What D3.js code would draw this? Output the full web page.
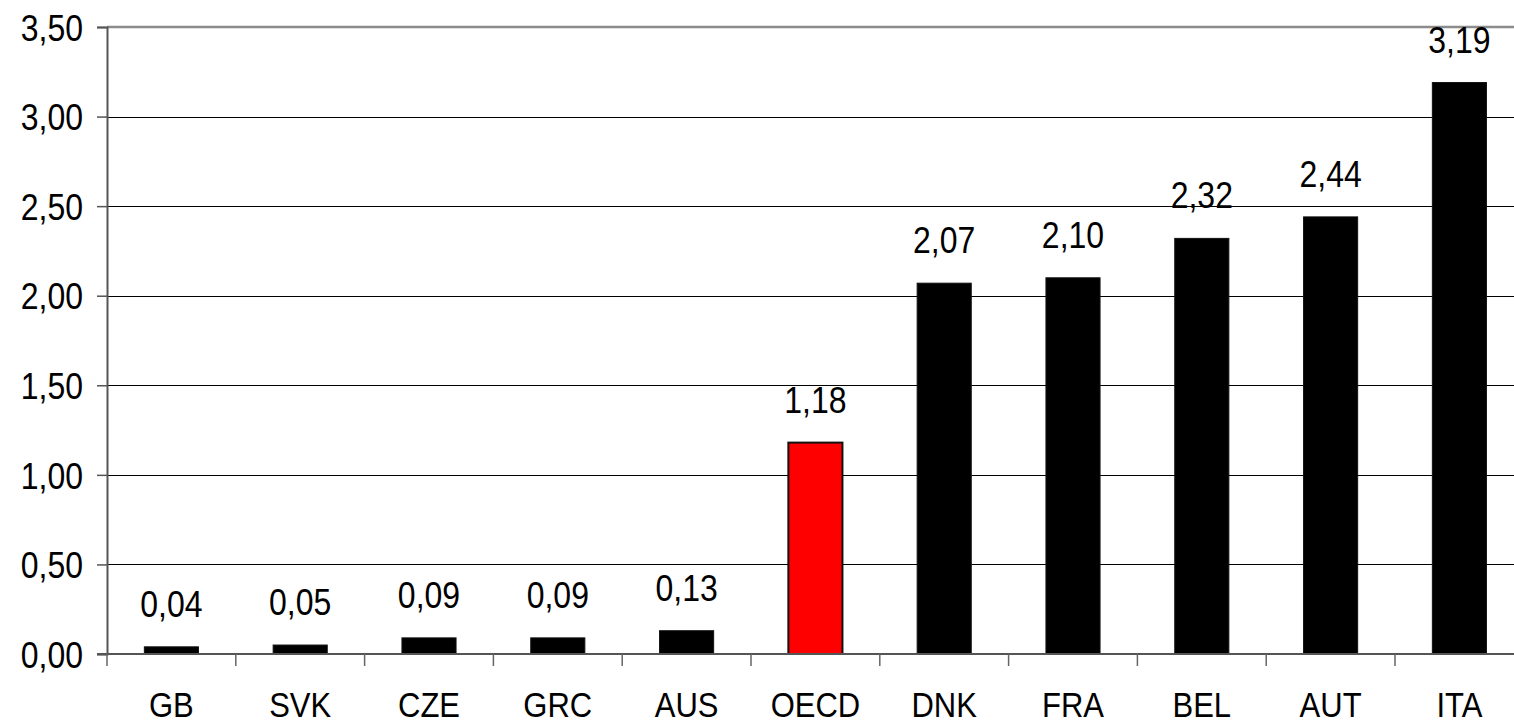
<!DOCTYPE html>
<html>
<head>
<meta charset="utf-8">
<script src="https://cdn.jsdelivr.net/npm/d3@7"></script>
<style>
  html, body { margin: 0; padding: 0; background: #fff; }
  svg { display: block; font-family: "Liberation Sans", Arial, sans-serif; }
</style>
</head>
<body>
<svg id="chart" width="1514" height="725"></svg>
<script>
// Country codes along the category axis
const categories = ["GB", "SVK", "CZE", "GRC", "AUS", "OECD", "DNK", "FRA", "BEL", "AUT", "ITA"];
// Values shown on each bar
const values = [0.04, 0.05, 0.09, 0.09, 0.13, 1.18, 2.07, 2.10, 2.32, 2.44, 3.19];
// Value-axis ticks
const yTicks = [0, 0.5, 1.0, 1.5, 2.0, 2.5, 3.0, 3.5];
// The aggregate bar drawn in a highlight colour
const highlight = "OECD";

(function draw() {
  const svg = d3.select("#chart");
  const plotLeft = 107, plotTop = 27, plotBottom = 654;
  const step = 128.8;
  const plotRight = plotLeft + step * categories.length;
  const stretch = 1.15; // text is drawn slightly tall and narrow

  const fmt = d3.formatLocale({ decimal: ",", thousands: ".", grouping: [3], currency: ["", ""] }).format(".2f");

  const x = d3.scaleBand()
    .domain(categories)
    .range([plotLeft, plotRight])
    .paddingInner(0.58)
    .paddingOuter(0.29);

  const y = d3.scaleLinear().domain([0, 3.5]).range([plotBottom, plotTop]);

  // Horizontal gridlines
  svg.append("g")
    .selectAll("line")
    .data(yTicks.filter(t => t > 0 && t < 3.5))
    .join("line")
    .attr("x1", plotLeft).attr("x2", 1514)
    .attr("y1", d => Math.round(y(d)) + 0.5).attr("y2", d => Math.round(y(d)) + 0.5)
    .attr("stroke", "#000").attr("stroke-width", 1);

  // Top border of plot area
  svg.append("line")
    .attr("x1", plotLeft).attr("x2", 1514)
    .attr("y1", y(3.5)).attr("y2", y(3.5))
    .attr("stroke", "#8c8c8c").attr("stroke-width", 2.5);

  // Value axis
  const yAxis = svg.append("g")
    .attr("transform", `translate(${plotLeft},0)`)
    .call(d3.axisLeft(y).tickValues(yTicks).tickFormat(fmt).tickSize(10));
  yAxis.select(".domain").attr("stroke", "#555").attr("stroke-width", 2);
  yAxis.selectAll(".tick line").attr("stroke", "#555").attr("stroke-width", 1.5);
  yAxis.selectAll(".tick text")
    .attr("x", null).attr("dy", null)
    .attr("transform", `translate(-24,${0.36 * 32 * stretch}) scale(1,${stretch})`)
    .attr("font-size", 32).attr("fill", "#000")
    .attr("font-family", "Liberation Sans, Arial, sans-serif");

  const rows = categories.map((c, i) => ({ c, v: values[i] }));

  // Bars
  svg.append("g")
    .selectAll("rect")
    .data(rows)
    .join("rect")
    .attr("x", d => x(d.c))
    .attr("width", x.bandwidth())
    .attr("y", d => y(d.v))
    .attr("height", d => y(0) - y(d.v))
    .attr("fill", d => d.c === highlight ? "#ff0000" : "#000")
    .attr("stroke", "#111")
    .attr("stroke-width", d => d.c === highlight ? 2 : 1);

  // Category axis line with boundary ticks
  svg.append("line")
    .attr("x1", plotLeft - 10).attr("x2", 1514)
    .attr("y1", plotBottom).attr("y2", plotBottom)
    .attr("stroke", "#555").attr("stroke-width", 2);

  svg.append("g")
    .selectAll("line")
    .data(d3.range(0, categories.length + 1))
    .join("line")
    .attr("x1", i => plotLeft + i * step).attr("x2", i => plotLeft + i * step)
    .attr("y1", plotBottom).attr("y2", plotBottom + 12)
    .attr("stroke", "#666").attr("stroke-width", 1.5);

  // Category labels
  svg.append("g")
    .selectAll("text")
    .data(categories)
    .join("text")
    .attr("transform", d => `translate(${x(d) + x.bandwidth() / 2},717) scale(1,1.12)`)
    .attr("text-anchor", "middle")
    .attr("font-size", 31)
    .text(d => d);

  // Value labels above bars
  svg.append("g")
    .selectAll("text")
    .data(rows)
    .join("text")
    .attr("transform", d => `translate(${x(d.c) + x.bandwidth() / 2},${y(d.v) - 30}) scale(1,${stretch})`)
    .attr("text-anchor", "middle")
    .attr("font-size", 32)
    .text(d => fmt(d.v));
})();
</script>
</body>
</html>
